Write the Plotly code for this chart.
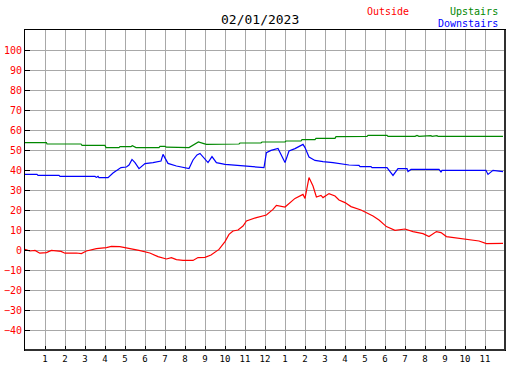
import plotly.graph_objects as go

# ---- data (hours since midnight, temperature) ----
hour_ticks = list(range(1, 24))
hour_labels = ["1", "2", "3", "4", "5", "6", "7", "8", "9", "10", "11", "12",
               "1", "2", "3", "4", "5", "6", "7", "8", "9", "10", "11"]
temp_ticks = list(range(-40, 101, 10))

outside_h = [0, 0.24, 0.5, 0.74, 1.07, 1.32, 1.8, 2.0, 2.57, 2.82, 3.07, 3.57,
             4.07, 4.32, 4.74, 5.24, 5.7, 6.24, 6.65, 7.07, 7.32, 7.57, 7.9, 8.4,
             8.65, 9.0, 9.3, 9.7, 10.0, 10.2, 10.4, 10.65, 10.9, 11.07, 11.57, 12.07,
             12.4, 12.57, 13.0, 13.5, 13.9, 14.0, 14.2, 14.4, 14.57, 14.8, 14.9, 15.2,
             15.5, 15.7, 16.0, 16.3, 16.8, 17.4, 17.7, 18.07, 18.5, 19.0, 19.4, 19.9,
             20.2, 20.57, 20.8, 21.07, 21.7, 22.4, 22.7, 23.07, 23.9]
outside_t = [0.3, -0.5, -0.2, -1.6, -1.3, -0.2, -0.7, -1.6, -1.5, -1.8, -0.5, 0.7,
             1.2, 1.8, 1.7, 0.8, -0.2, -1.5, -3.3, -4.5, -3.8, -4.8, -5.2, -5.2,
             -3.8, -3.7, -2.5, 0.3, 4.2, 7.8, 9.5, 10.0, 12.0, 14.5, 16.2, 17.5,
             20.3, 22.3, 21.5, 25.8, 27.8, 25.8, 36.2, 32.0, 26.5, 27.3, 26.2, 28.2,
             27.0, 25.0, 23.7, 21.7, 20.0, 17.0, 15.0, 11.7, 9.8, 10.5, 9.2, 8.2,
             6.7, 9.2, 8.7, 6.7, 5.8, 5.0, 4.5, 3.2, 3.3]

upstairs_h = [0, 1.07, 1.1, 2.8, 2.85, 4.0, 4.05, 4.7, 4.75, 5.3, 5.37, 5.45,
              5.55, 6.7, 6.75, 7.0, 7.07, 8.2, 8.5, 8.67, 8.9, 9.07, 10.7, 10.75,
              11.8, 11.85, 13.0, 13.05, 13.8, 13.85, 14.5, 14.55, 15.5, 15.55, 17.1, 17.15,
              18.1, 18.15, 19.5, 19.6, 19.7, 20.3, 20.35, 20.6, 20.65, 23.9]
upstairs_t = [53.7, 53.7, 53.0, 53.0, 52.3, 52.3, 51.2, 51.2, 51.7, 51.7, 52.1, 51.7,
              51.2, 51.2, 51.8, 51.8, 51.4, 51.2, 52.8, 54.0, 53.3, 52.8, 53.0, 53.5,
              53.5, 54.0, 54.0, 54.5, 54.5, 55.2, 55.2, 55.8, 55.8, 56.7, 56.8, 57.3,
              57.3, 56.8, 56.8, 57.3, 56.8, 57.2, 56.8, 57.2, 56.8, 56.8]

downstairs_h = [0, 0.6, 0.65, 1.7, 1.75, 3.5, 3.57, 3.65, 3.7, 4.15, 4.4, 4.57,
                4.8, 5.07, 5.2, 5.35, 5.5, 5.7, 6.0, 6.4, 6.7, 6.8, 6.9, 7.15,
                7.57, 8.07, 8.2, 8.4, 8.6, 8.75, 9.0, 9.15, 9.35, 9.57, 10.0, 11.0,
                11.6, 11.95, 12.07, 12.3, 12.65, 12.75, 13.0, 13.2, 13.5, 13.9, 14.0, 14.2,
                14.5, 14.9, 15.4, 16.2, 16.7, 16.75, 17.3, 17.35, 18.1, 18.4, 18.65, 19.1,
                19.15, 19.3, 20.7, 20.8, 20.85, 23.05, 23.15, 23.4, 23.9]
downstairs_t = [37.8, 37.8, 37.3, 37.3, 36.8, 36.8, 36.3, 36.8, 36.2, 36.2, 38.5, 39.8,
                41.2, 41.5, 42.5, 45.3, 43.7, 40.7, 43.2, 43.7, 44.2, 44.5, 47.8, 43.3,
                42.0, 40.8, 40.7, 45.0, 47.5, 48.3, 45.5, 43.7, 46.7, 43.7, 42.8, 42.0,
                41.5, 41.2, 48.7, 49.8, 50.8, 48.7, 43.7, 49.5, 50.7, 52.8, 51.2, 46.5,
                44.8, 44.2, 43.7, 42.5, 42.3, 41.7, 41.7, 41.2, 41.2, 37.3, 40.7, 40.7,
                39.2, 40.3, 40.3, 39.0, 39.8, 39.8, 37.8, 39.8, 39.2]

date_title = "02/01/2023"
series_names = ["Outside", "Upstairs", "Downstairs"]
series_colors = ["#ff0000", "#008800", "#0000ff"]

MONO = "DejaVu Sans Mono"

fig = go.Figure()
for name, xs, ys, col in [
    (series_names[0], outside_h, outside_t, series_colors[0]),
    (series_names[1], upstairs_h, upstairs_t, series_colors[1]),
    (series_names[2], downstairs_h, downstairs_t, series_colors[2]),
]:
    fig.add_trace(go.Scatter(x=xs, y=ys, mode="lines", name=name,
                             line=dict(color=col, width=1.2), showlegend=False))

fig.update_layout(
    width=527, height=370,
    margin=dict(l=25, r=22, t=30, b=20),
    paper_bgcolor="white", plot_bgcolor="white",
    font=dict(family=MONO, size=10, color="black"),
    xaxis=dict(range=[0, 24], tickmode="array", tickvals=hour_ticks, ticktext=hour_labels,
               showgrid=True, gridcolor="#a8a8a8", gridwidth=1,
               ticks="inside", ticklen=4, tickcolor="black",
               showline=True, linecolor="black", linewidth=1, mirror=True,
               tickfont=dict(family=MONO, size=9, color="black"), zeroline=False,
               automargin=False, fixedrange=True),
    yaxis=dict(range=[-50, 110], tickmode="array", tickvals=temp_ticks,
               showgrid=True, gridcolor="#a8a8a8", gridwidth=1,
               ticks="inside", ticklen=5, tickcolor="black",
               showline=True, linecolor="black", linewidth=1, mirror=True,
               tickfont=dict(family=MONO, size=10, color="#ff0000"), zeroline=False,
               automargin=False, fixedrange=True),
)

# heavier right/bottom frame edges
fig.add_shape(type="line", xref="paper", yref="paper", x0=1, x1=1, y0=0, y1=1,
              line=dict(color="#303030", width=2))
fig.add_shape(type="line", xref="paper", yref="paper", x0=0, x1=1, y0=0, y1=0,
              line=dict(color="#303030", width=2))

fig.add_annotation(text=date_title, xref="paper", yref="paper", x=0.49, y=1.0,
                   xanchor="center", yanchor="bottom", yshift=1, showarrow=False,
                   font=dict(family=MONO, size=13, color="black"))
fig.add_annotation(text=series_names[0], xref="paper", yref="paper", x=0.805, y=1.0,
                   xanchor="right", yanchor="bottom", yshift=11, showarrow=False,
                   font=dict(family=MONO, size=10, color=series_colors[0]))
fig.add_annotation(text=series_names[1], xref="paper", yref="paper", x=0.99, y=1.0,
                   xanchor="right", yanchor="bottom", yshift=11, showarrow=False,
                   font=dict(family=MONO, size=10, color=series_colors[1]))
fig.add_annotation(text=series_names[2], xref="paper", yref="paper", x=0.99, y=1.0,
                   xanchor="right", yanchor="bottom", yshift=-1, showarrow=False,
                   font=dict(family=MONO, size=10, color=series_colors[2]))

fig.write_html("out.html", config={"displayModeBar": False},
               post_script="document.body.style.margin='0';document.body.style.overflow='hidden';")
